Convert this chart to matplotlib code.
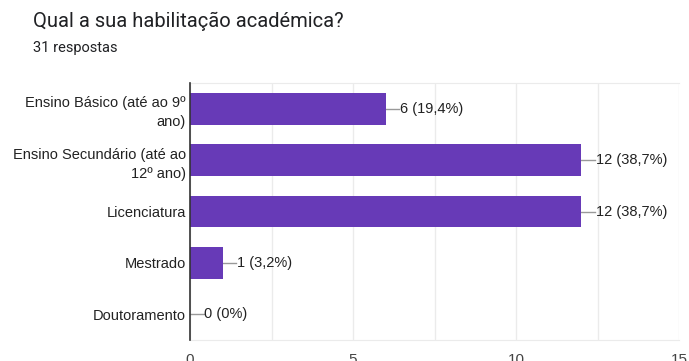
import matplotlib
matplotlib.use("Agg")
import matplotlib.pyplot as plt
import numpy as np

# -------------------------------
# Survey data
# -------------------------------
categories = [
    "Ensino Básico (até ao 9º\nano)",
    "Ensino Secundário (até ao\n12º ano)",
    "Licenciatura",
    "Mestrado",
    "Doutoramento",
]
counts = [6, 12, 12, 1, 0]
percent_labels = ["19,4%", "38,7%", "38,7%", "3,2%", "0%"]
x_ticks = [0, 5, 10, 15]

title = "Qual a sua habilitação académica?"
subtitle = "31 respostas"

bar_color = "#673ab7"
grid_color = "#ebebeb"
text_color = "#222222"


def main():
    fig = plt.figure(figsize=(6.89, 3.61), dpi=100)
    ax = fig.add_axes([0.2758, 0.058, 0.7097, 0.712])

    y = np.arange(len(categories))
    ax.barh(y, counts, height=0.62, color=bar_color, zorder=3)

    ax.set_xlim(0, 15)
    ax.set_ylim(len(categories) - 0.5, -0.5)

    # minor gridlines every 2.5
    ax.set_xticks(np.arange(0, 15.01, 2.5), minor=True)
    ax.set_xticks(x_ticks)
    ax.set_xticklabels([str(t) for t in x_ticks], family="Liberation Sans",
                       fontsize=11, color="#444444")
    ax.grid(axis="x", which="both", color=grid_color, linewidth=1, zorder=0)
    ax.tick_params(axis="x", which="both", length=0, pad=9)
    ax.tick_params(axis="y", length=0, pad=3)

    ax.set_yticks(y)
    ax.set_yticklabels(categories, family="Liberation Sans", fontsize=10.5,
                       color=text_color, linespacing=1.45)

    ax.spines["right"].set_visible(False)
    ax.spines["top"].set_color(grid_color)
    ax.spines["bottom"].set_color(grid_color)
    ax.spines["left"].set_color("#333333")
    ax.spines["left"].set_linewidth(1.2)
    ax.spines["left"].set_zorder(4)

    # leader lines and value labels
    for yi, c, p in zip(y, counts, percent_labels):
        ax.plot([c, c + 0.42], [yi, yi], color="#999999", lw=1, zorder=2,
                clip_on=False)
        ax.text(c + 0.44, yi, f"{c} ({p})", va="center", ha="left",
                family="Liberation Sans", fontsize=10.5, color=text_color)

    fig.text(33 / 689, 1 - 21 / 361, title, family="Roboto", fontsize=14.5,
             color="#202124", va="center", ha="left")
    fig.text(33 / 689, 1 - 48 / 361, subtitle, family="Roboto", fontsize=10.5,
             color="#202124", va="center", ha="left")

    fig.savefig("out.png", dpi=100)


if __name__ == "__main__":
    main()
